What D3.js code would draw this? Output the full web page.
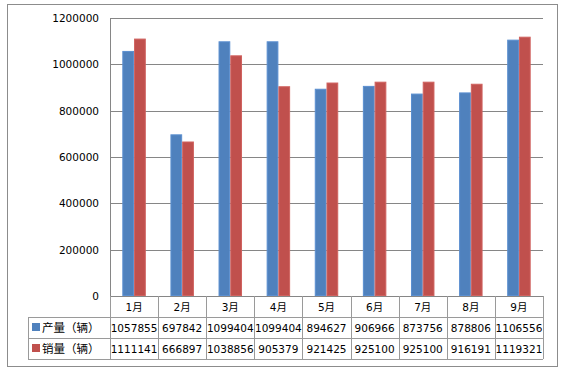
<!DOCTYPE html>
<html>
<head>
<meta charset="utf-8">
<script src="https://d3js.org/d3.v7.min.js"></script>
<style>
  body { margin: 0; background: #fff; }
  text { font-family: "DejaVu Sans", "Noto Sans CJK SC", sans-serif; font-size: 10.5px; fill: #000; }
</style>
</head>
<body>
<div id="viz"></div>
<script>
var months = ["1月", "2月", "3月", "4月", "5月", "6月", "7月", "8月", "9月"];
var series = ["产量（辆）", "销量（辆）"];
var output = [1057855, 697842, 1099404, 1099404, 894627, 906966, 873756, 878806, 1106556];
var sales = [1111141, 666897, 1038856, 905379, 921425, 925100, 925100, 916191, 1119321];
var yTicks = [0, 200000, 400000, 600000, 800000, 1000000, 1200000];
var colors = ["#4F81BD", "#C0504D"];
var edges = ["#5B8FD0", "#D0625F"];

var W = 562, H = 370;
var plotL = 110, plotR = 543, plotT = 18, base = 296;
var rowH = 21, headH = 21, legendX = 28;

var svg = d3.select("#viz").append("svg").attr("width", W).attr("height", H);

// outer frame
svg.append("rect").attr("x", 7.5).attr("y", 4.5).attr("width", 550).attr("height", 362)
  .attr("fill", "#fff").attr("stroke", "#8c8c8c");

var x = d3.scaleBand().domain(months).range([plotL, plotR]);
var xIn = d3.scaleBand().domain([0, 1]).range([0, x.bandwidth()]).paddingOuter(1.05).paddingInner(0);
var y = d3.scaleLinear().domain([0, 1200000]).range([base, plotT]);

// gridlines
svg.append("g").selectAll("line").data(yTicks.slice(1)).enter().append("line")
  .attr("x1", plotL).attr("x2", plotR)
  .attr("y1", function (d) { return Math.round(y(d)) + 0.5; })
  .attr("y2", function (d) { return Math.round(y(d)) + 0.5; })
  .attr("stroke", "#868686");

// y axis labels
svg.append("g").selectAll("text").data(yTicks).enter().append("text")
  .attr("x", 99).attr("y", function (d) { return y(d) + 4; })
  .attr("text-anchor", "end").text(function (d) { return d; });

// bars
var data = [output, sales];
data.forEach(function (vals, s) {
  svg.append("g").selectAll("rect").data(vals).enter().append("rect")
    .attr("x", function (d, i) { return x(months[i]) + xIn(s) + 0.5; })
    .attr("y", function (d) { return y(d) + 0.5; })
    .attr("width", xIn.bandwidth() - 1)
    .attr("height", function (d) { return base - y(d) - 1; })
    .attr("fill", colors[s]).attr("stroke", edges[s]);
});

// axis lines
svg.append("line").attr("x1", plotL + 0.5).attr("x2", plotL + 0.5).attr("y1", plotT).attr("y2", base)
  .attr("stroke", "#868686");
svg.append("line").attr("x1", plotL).attr("x2", plotR).attr("y1", base + 0.5).attr("y2", base + 0.5)
  .attr("stroke", "#868686");

// data table
var tbl = svg.append("g");
var rowTop = base + headH;
var grid = "#9a9a9a";
tbl.selectAll("line.v").data(d3.range(months.length + 1)).enter().append("line")
  .attr("x1", function (i) { return Math.round(plotL + i * x.bandwidth()) + 0.5; })
  .attr("x2", function (i) { return Math.round(plotL + i * x.bandwidth()) + 0.5; })
  .attr("y1", base).attr("y2", rowTop + 2 * rowH).attr("stroke", grid);
tbl.append("line").attr("x1", legendX + 0.5).attr("x2", legendX + 0.5)
  .attr("y1", rowTop).attr("y2", rowTop + 2 * rowH).attr("stroke", grid);
[0, 1, 2].forEach(function (r) {
  tbl.append("line").attr("x1", legendX).attr("x2", plotR)
    .attr("y1", rowTop + r * rowH + 0.5).attr("y2", rowTop + r * rowH + 0.5).attr("stroke", grid);
});

tbl.selectAll("text.m").data(months).enter().append("text")
  .attr("x", function (d) { return x(d) + x.bandwidth() / 2; })
  .attr("y", base + 15).attr("text-anchor", "middle").text(function (d) { return d; });

data.forEach(function (vals, s) {
  var ry = rowTop + s * rowH;
  tbl.append("rect").attr("x", legendX + 4).attr("y", ry + 6).attr("width", 8).attr("height", 8)
    .attr("fill", colors[s]);
  tbl.append("text").attr("x", legendX + 14).attr("y", ry + 15)
    .style("font-size", "11.5px").text(series[s]);
  tbl.selectAll(null).data(vals).enter().append("text")
    .attr("x", function (d, i) { return x(months[i]) + x.bandwidth() / 2; })
    .attr("y", ry + 15).attr("text-anchor", "middle").text(function (d) { return d; });
});
</script>
</body>
</html>
